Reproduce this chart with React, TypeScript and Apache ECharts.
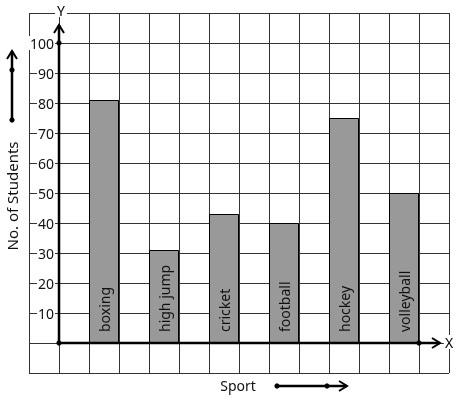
import React, { useEffect, useRef } from 'react';
import * as echarts from 'echarts';

const categories = ['boxing', 'high jump', 'cricket', 'football', 'hockey', 'volleyball'];
const values = [81, 31, 43, 40, 75, 50];
const slotCentres = [1.5, 3.5, 5.5, 7.5, 9.5, 11.5];
const yTickLabels = [10, 20, 30, 40, 50, 60, 70, 80, 90, 100];
const xAxisName = 'Sport';
const yAxisName = 'No. of Students';

export default function App() {
  const ref = useRef<HTMLDivElement>(null);
  useEffect(() => {
    const chart = echarts.init(ref.current!, null, { renderer: 'svg' });
    const font = 'Noto Sans';
    const gridColor = '#333';
    chart.setOption({
      animation: false,
      grid: { left: 29, right: 8, top: 13, bottom: 26 },
      xAxis: {
        type: 'value', min: -1, max: 13, interval: 1,
        axisLine: { show: false }, axisTick: { show: false }, axisLabel: { show: false },
        splitLine: { show: true, lineStyle: { color: gridColor, width: 1 } },
      },
      yAxis: {
        type: 'value', min: -10, max: 110, interval: 10,
        axisLine: { show: false }, axisTick: { show: false },
        axisLabel: {
          inside: true, margin: 26, align: 'right',
          formatter: (v: number) => (yTickLabels.includes(v) ? '{t|' + v + '}' : ''),
          rich: { t: { fontSize: 14, fontFamily: font, color: '#111', backgroundColor: '#fff', padding: [0, 1] } },
        },
        splitLine: { show: true, lineStyle: { color: gridColor, width: 1 } },
      },
      series: [{
        type: 'bar', barWidth: 30,
        data: categories.map((c, i) => ({ name: c, value: [slotCentres[i], values[i]] })),
        itemStyle: { color: '#999999', borderColor: '#000', borderWidth: 1 },
        label: {
          show: true, position: 'insideBottom', rotate: 90, align: 'left', verticalAlign: 'middle',
          distance: 11, formatter: '{b}', fontSize: 14, fontFamily: font, color: '#111',
        },
      }],
    });
    const p = (x: number, y: number) => chart.convertToPixel({ gridIndex: 0 }, [x, y]) as number[];
    const o = p(0, 0), y100 = p(0, 100), yTop = p(0, 106), x12 = p(12, 0), xEnd = p(12.7, 0);
    const stroke = { stroke: '#000', lineWidth: 2.5 };
    const arrowStroke = { stroke: '#000', lineWidth: 2, fill: 'none' };
    const dot = (x: number, y: number) => ({ type: 'circle', shape: { cx: x, cy: y, r: 2.6 }, style: { fill: '#000' }, z: 20 });
    chart.setOption({
      graphic: [
        { type: 'line', shape: { x1: o[0], y1: o[1], x2: yTop[0], y2: yTop[1] }, style: stroke, z: 20 },
        { type: 'polyline', shape: { points: [[yTop[0] - 5, yTop[1] + 8], [yTop[0], yTop[1]], [yTop[0] + 5, yTop[1] + 8]] }, style: arrowStroke, z: 20 },
        { type: 'line', shape: { x1: o[0], y1: o[1], x2: xEnd[0], y2: xEnd[1] }, style: stroke, z: 20 },
        { type: 'polyline', shape: { points: [[xEnd[0] - 8, xEnd[1] - 5], [xEnd[0], xEnd[1]], [xEnd[0] - 8, xEnd[1] + 5]] }, style: arrowStroke, z: 20 },
        dot(o[0], o[1]), dot(y100[0], y100[1]), dot(x12[0], x12[1]),
        { type: 'text', x: 61, y: 10, style: { text: 'Y', fontSize: 14, fontFamily: font, fill: '#000', align: 'center', verticalAlign: 'middle', backgroundColor: '#fff', padding: [0, 2] }, z: 20 },
        { type: 'text', x: 449, y: 342, style: { text: 'X', fontSize: 14, fontFamily: font, fill: '#000', align: 'center', verticalAlign: 'middle', backgroundColor: '#fff', padding: [0, 1] }, z: 20 },
        // left decorative arrow
        { type: 'line', shape: { x1: 12, y1: 120, x2: 12, y2: 51 }, style: stroke, z: 20 },
        { type: 'polyline', shape: { points: [[7, 59], [12, 51], [17, 59]] }, style: arrowStroke, z: 20 },
        dot(12, 70), dot(12, 120),
        { type: 'text', x: 12, y: 196, rotation: Math.PI / 2, style: { text: yAxisName, fontSize: 15, fontFamily: font, fill: '#111', align: 'center', verticalAlign: 'middle' }, z: 20 },
        // bottom decorative arrow
        { type: 'line', shape: { x1: 277, y1: 386, x2: 347, y2: 386 }, style: stroke, z: 20 },
        { type: 'polyline', shape: { points: [[339, 381], [347, 386], [339, 391]] }, style: arrowStroke, z: 20 },
        dot(277, 386), dot(327, 386),
        { type: 'text', x: 238, y: 385, style: { text: xAxisName, fontSize: 14, fontFamily: font, fill: '#111', align: 'center', verticalAlign: 'middle' }, z: 20 },
      ],
    });
    return () => chart.dispose();
  }, []);
  return <div ref={ref} style={{ position: 'fixed', left: 0, top: 0, width: 457, height: 399 }} />;
}
